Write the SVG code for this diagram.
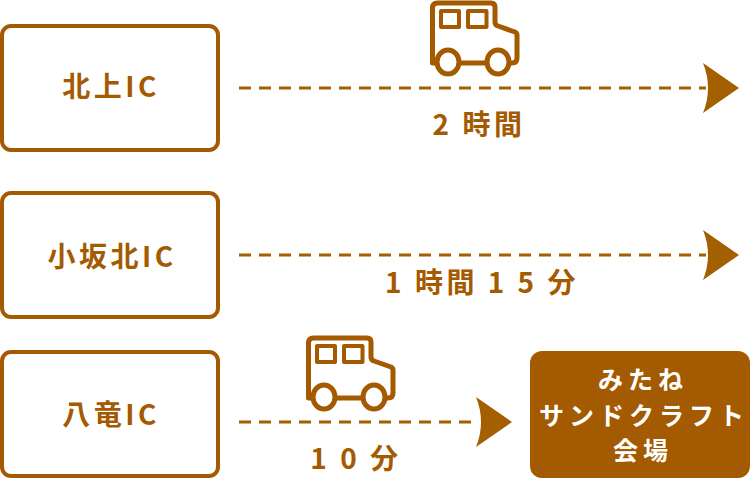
<svg xmlns="http://www.w3.org/2000/svg" width="750" height="478" viewBox="0 0 750 478">
<defs>
<g id="truck" fill="none" stroke="#a45a00" stroke-width="5" stroke-linejoin="round">
<path d="M8 63H4.500V8Q4.500 3 9.500 3H63Q67 3 67 7V22Q67 25 70 26L87 32Q89 33 89 35V58Q89 63 84 63H81M59 63H31"/>
<rect x="13" y="11" width="18" height="16" stroke-width="4"/>
<rect x="40" y="11" width="18.500" height="16" stroke-width="4"/>
<ellipse cx="20" cy="62" rx="11" ry="12"/>
<ellipse cx="70" cy="62" rx="11" ry="12"/>
</g>
<path id="head" d="M0 0L36 25L0 50Q10 25 0 0Z" fill="#a45f00"/>
</defs>
<style>
.box{fill:#fff;stroke:#a45a00;stroke-width:4}
.dash{fill:none;stroke:#a45f00;stroke-width:3;stroke-dasharray:12 8}
text{font-family:"Noto Sans CJK JP","Noto Sans",sans-serif;font-weight:700;font-size:28px;fill:#a45a00;text-anchor:middle;letter-spacing:3.500px}
.w{fill:#fff;font-size:25px;letter-spacing:5px}
</style>
<g id="connectors">
<path class="dash" d="M239 88H706"/>
<use href="#head" x="703" y="63"/>
<path class="dash" d="M239 255H706"/>
<use href="#head" x="703" y="230"/>
<path class="dash" d="M239 422H478"/>
<use href="#head" x="476" y="397"/>
</g>
<g id="node-kitakami"><rect class="box" x="2" y="26" width="216" height="124" rx="9"/><text x="111" y="97">北上IC</text></g>
<g id="node-kosaka"><rect class="box" x="2" y="193" width="216" height="124" rx="9"/><text x="112" y="267">小坂北IC</text></g>
<g id="node-yatsuryu"><rect class="box" x="2" y="352" width="216" height="124" rx="9"/><text x="111" y="425">八竜IC</text></g>
<g id="node-venue"><rect x="530" y="351" width="220" height="127" rx="12" fill="#a45a00"/>
<text class="w" x="643" y="389">みたね</text>
<text class="w" x="644" y="425">サンドクラフト</text>
<text class="w" x="643" y="460">会場</text></g>
<g id="truck-1"><use href="#truck" x="428"/></g>
<g id="truck-2"><use href="#truck" x="304" y="335"/></g>
<g id="labels">
<text x="479" y="135">2 時間</text>
<text x="482" y="293">1 時間 1 5 分</text>
<text x="356" y="469">1 0 分</text>
</g>
</svg>
